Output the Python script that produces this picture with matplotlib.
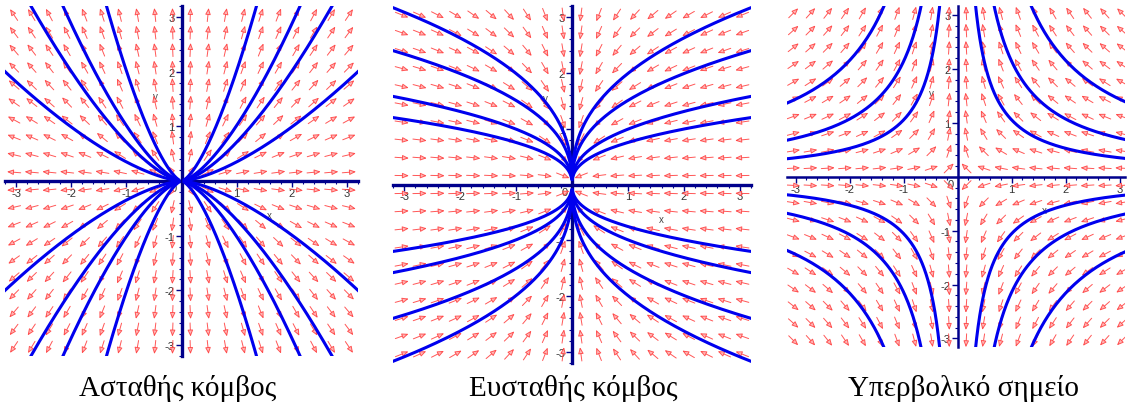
import numpy as np
import matplotlib
matplotlib.use('Agg')
import matplotlib.pyplot as plt
from matplotlib.patches import FancyArrowPatch
from matplotlib.ticker import MultipleLocator

plt.rcParams['axes.unicode_minus'] = False
plt.rcParams['font.family'] = ['Liberation Sans', 'DejaVu Sans']

# linear systems x' = ax*x, y' = ay*y
node_out = (1.0, 1.5)      # unstable node
node_in = (-2.5, -1.0)     # stable node
saddle = (-1.0, 1.0)       # saddle

# starting points of the trajectories (first quadrant, mirrored to the others)
start_out = [(1.36, 3.2), (2.15, 3.2), (2.73, 3.2), (3.2, 2.0)]
start_in = [(3.2, 1.2), (3.2, 1.58), (3.2, 2.4), (3.2, 3.17)]
start_saddle = [(0.33, 3.2), (0.67, 3.2), (1.35, 3.2)]

titles = ['Ασταθής κόμβος', 'Ευσταθής κόμβος', 'Υπερβολικό σημείο']

W, H = 1127, 406
fig = plt.figure(figsize=(W / 100, H / 100), dpi=100)

navy = '#00008c'
curve_c = '#0000ee'


def make_ax(l, r, t, b, xlim, ylim):
    ax = fig.add_axes([l / W, 1 - b / H, (r - l) / W, (b - t) / H])
    ax.set_xlim(*xlim)
    ax.set_ylim(*ylim)
    for s in ['top', 'right']:
        ax.spines[s].set_visible(False)
    for s in ['left', 'bottom']:
        ax.spines[s].set_position(('data', 0))
        ax.spines[s].set_color(navy)
        ax.spines[s].set_linewidth(2.4)
    ax.set_xticks([-3, -2, -1, 1, 2, 3])
    ax.set_yticks([-3, -2, -1, 1, 2, 3])
    ax.xaxis.set_minor_locator(MultipleLocator(0.2))
    ax.yaxis.set_minor_locator(MultipleLocator(0.2))
    ax.tick_params(which='major', direction='out', length=4, width=1,
                   color=navy, labelsize=8, pad=1, labelcolor='#333333')
    ax.tick_params(which='minor', direction='out', length=2, width=0.8,
                   color=navy)
    ax.text(-0.08, -0.04, '0', ha='right', va='top', fontsize=8,
            color='#333333')
    ax.text(1.6, -0.62, 'x', fontsize=7, color='#444444', ha='center',
            va='center')
    ax.text(-0.48, 1.55, 'y', fontsize=7, color='#444444', ha='center',
            va='center')
    return ax


def field(ax, coef, L=0.25):
    g = np.linspace(-3.04, 3.04, 20)
    for x in g:
        for y in g:
            u, v = coef[0] * x, coef[1] * y
            n = np.hypot(u, v)
            if n == 0:
                continue
            dx, dy = L * u / n / 2, L * v / n / 2
            ax.add_patch(FancyArrowPatch(
                (x - dx, y - dy), (x + dx, y + dy),
                arrowstyle='-|>,head_length=3.8,head_width=1.6',
                lw=0.7, ec='#ff4444', fc='#ffbcbc', shrinkA=0, shrinkB=0,
                zorder=3, alpha=0.9))


def trajectories(ax, coef, starts, t):
    for x0, y0 in starts:
        for sx in (1, -1):
            for sy in (1, -1):
                xs = sx * x0 * np.exp(coef[0] * t)
                ys = sy * y0 * np.exp(coef[1] * t)
                ax.plot(xs, ys, color=curve_c, lw=2.2, zorder=4,
                        solid_capstyle='round')


ax1 = make_ax(5, 358, 7, 357, (-3.2, 3.2), (-3.2, 3.2))
field(ax1, node_out)
trajectories(ax1, node_out, start_out, np.linspace(-3.5, 0.2, 300))

ax2 = make_ax(393, 751, 7, 364, (-3.2, 3.2), (-3.2, 3.2))
field(ax2, node_in)
trajectories(ax2, node_in, start_in, np.linspace(-0.2, 2.6, 300))

ax3 = make_ax(787, 1125, 7, 348, (-3.16, 3.1), (-3.16, 3.17))
for s in ['left', 'bottom']:
    ax3.spines[s].set_linewidth(1.8)
field(ax3, saddle)
trajectories(ax3, saddle, start_saddle, np.linspace(-3.0, 0.2, 300))

for cx, title in zip([178, 573, 964], titles):
    fig.text(cx / W, 1 - 396 / H, title, ha='center', va='baseline',
             fontsize=21, family='Liberation Serif')

fig.savefig('out.png', dpi=100)
